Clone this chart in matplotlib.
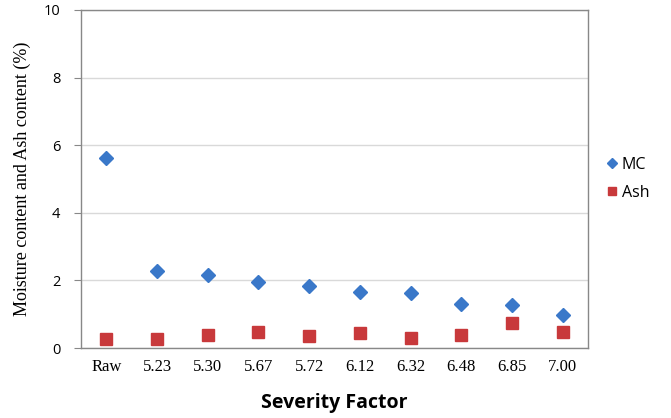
import matplotlib
matplotlib.use("Agg")
import matplotlib.pyplot as plt

# Severity factor categories and measured values (%)
categories = ["Raw", "5.23", "5.30", "5.67", "5.72", "6.12", "6.32", "6.48", "6.85", "7.00"]
mc_values = [5.63, 2.28, 2.16, 1.94, 1.83, 1.67, 1.63, 1.30, 1.28, 0.98]
ash_values = [0.26, 0.28, 0.39, 0.46, 0.35, 0.43, 0.30, 0.39, 0.73, 0.48]
y_ticks = [0, 2, 4, 6, 8, 10]

fig = plt.figure(figsize=(6.71, 4.18), dpi=100)
ax = fig.add_axes([81 / 671, 1 - 348 / 418, 507 / 671, 338 / 418])

x = range(len(categories))
ax.plot(x, mc_values, "D", color="#3A78C9", markersize=7.5, label="MC", zorder=3)
ax.plot(x, ash_values, "s", color="#C8393B", markersize=9, label="Ash", zorder=3)

ax.set_xlim(-0.5, len(categories) - 0.5)
ax.set_ylim(0, 10)
ax.set_yticks(y_ticks)
ax.set_yticklabels([str(t) for t in y_ticks], fontfamily="Open Sans", fontsize=10.5)
ax.set_xticks(list(x))
ax.set_xticklabels(categories, fontfamily="Liberation Serif", fontsize=12)
ax.tick_params(axis="x", length=0, pad=8)
ax.tick_params(axis="y", length=5, color="#888888", pad=10)

ax.yaxis.grid(True, color="#D9D9D9", linewidth=1)
ax.set_axisbelow(True)
for side in ["top", "right", "left", "bottom"]:
    ax.spines[side].set_color("#888888")
    ax.spines[side].set_linewidth(1)

ax.set_ylabel("Moisture content and Ash content (%)", fontfamily="Liberation Serif", fontsize=13, labelpad=9)
ax.set_xlabel("Severity Factor", fontfamily="Open Sans", fontweight="bold", fontsize=14, labelpad=13)

ax.legend(loc="center left", bbox_to_anchor=(1.0, 0.5), frameon=False,
          prop={"family": "Open Sans", "size": 11.5}, handletextpad=0.0,
          handlelength=1.2, markerscale=0.65, labelspacing=0.75)

fig.savefig("out.png", dpi=100)
